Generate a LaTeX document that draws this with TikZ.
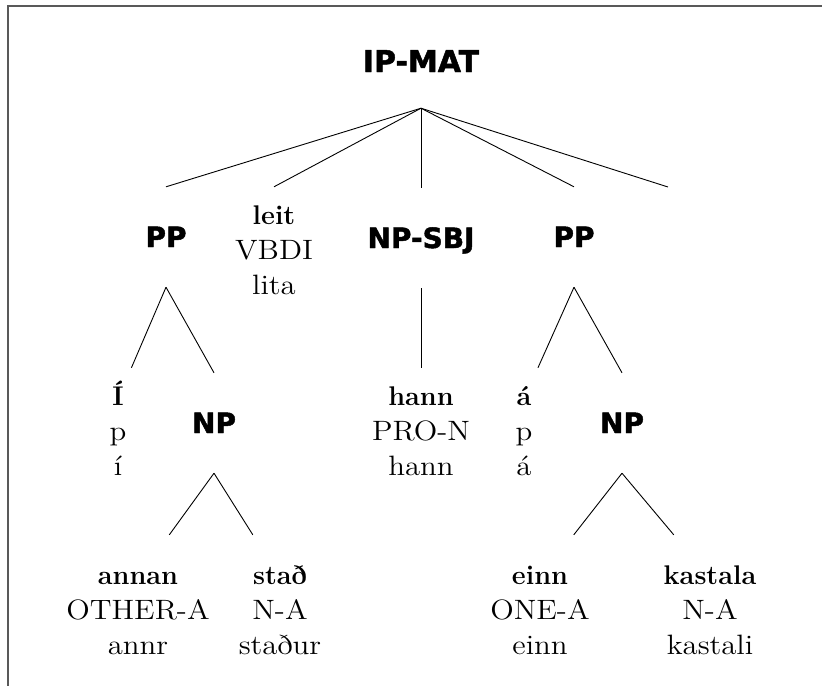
\documentclass[tikz,border=0pt]{standalone}
\usepackage{fontspec}
\newfontfamily\phrasefont{DejaVu Sans}[BoldFeatures={FakeBold=1.6}]
\newfontfamily\glossfont{lmroman12-regular.otf}[FakeStretch=1.1]
\tikzset{
  phrase/.style={font=\phrasefont\bfseries\fontsize{28}{34}\selectfont, inner sep=0pt, minimum height=100pt, text height=20pt, text depth=0pt},
  word/.style={font=\bfseries\fontsize{27}{35}\selectfont, anchor=base, inner xsep=10pt, inner ysep=18pt, text height=19pt, text depth=7pt},
  lowword/.style={word, inner ysep=30pt},
  gloss/.style={font=\glossfont\fontsize{28}{35}\selectfont, anchor=base, inner sep=0pt},
  branch/.style={line width=0.9pt},
  frame/.style={line width=2pt, black!65}
}
\begin{document}
\begin{tikzpicture}[x=1pt,y=-1pt]
      \useasboundingbox (0,0) rectangle (822,686);
      \draw[frame] (822,6) -- (8,6) -- (8,686);
      \node[phrase, font=\phrasefont\bfseries\fontsize{30}{36}\selectfont, text height=22pt, minimum height=94pt] (ipmat) at (421,61) {IP-MAT};
      \node[phrase] (ppA) at (166,237) {PP};
      \node[phrase] (npsbj) at (421,238) {NP-SBJ};
      \node[phrase] (ppB) at (574,237) {PP};
      \coordinate (extra) at (668,187);
      \node[phrase] (npA) at (214,423) {NP};
      \node[phrase] (npB) at (622,423) {NP};
      \node[word] (leit) at (274,224) {leit};
      \node[gloss] (leitT) at ([yshift=-35pt]leit.base) {VBDI};
      \node[gloss] (leitL) at ([yshift=-35pt]leitT.base) {lita};
      \node[word] (iacc) at (118,405) {Í};
      \node[gloss] (iaccT) at ([yshift=-35pt]iacc.base) {p};
      \node[gloss] (iaccL) at ([yshift=-35pt]iaccT.base) {í};
      \node[word] (hann) at (421,405) {hann};
      \node[gloss] (hannT) at ([yshift=-35pt]hann.base) {PRO-N};
      \node[gloss] (hannL) at ([yshift=-35pt]hannT.base) {hann};
      \node[word] (aacc) at (524,405) {á};
      \node[gloss] (aaccT) at ([yshift=-35pt]aacc.base) {p};
      \node[gloss] (aaccL) at ([yshift=-35pt]aaccT.base) {á};
      \node[lowword] (annan) at (138,584) {annan};
      \node[gloss] (annanT) at ([yshift=-35pt]annan.base) {OTHER-A};
      \node[gloss] (annanL) at ([yshift=-35pt]annanT.base) {annr};
      \node[lowword] (stad) at (280,584) {stað};
      \node[gloss] (stadT) at ([yshift=-35pt]stad.base) {N-A};
      \node[gloss] (stadL) at ([yshift=-35pt]stadT.base) {staður};
      \node[lowword] (einn) at (540,584) {einn};
      \node[gloss] (einnT) at ([yshift=-35pt]einn.base) {ONE-A};
      \node[gloss] (einnL) at ([yshift=-35pt]einnT.base) {einn};
      \node[lowword] (kastala) at (710,584) {kastala};
      \node[gloss] (kastalaT) at ([yshift=-35pt]kastala.base) {N-A};
      \node[gloss] (kastalaL) at ([yshift=-35pt]kastalaT.base) {kastali};
      \draw[branch] (ipmat.south) -- (ppA.north);
      \draw[branch] (ipmat.south) -- (leit.north);
      \draw[branch] (ipmat.south) -- (npsbj.north);
      \draw[branch] (ipmat.south) -- (ppB.north);
      \draw[branch] (ipmat.south) -- (extra);
      \draw[branch] (ppA.south) -- (iacc);
      \draw[branch] (ppA.south) -- (npA.north);
      \draw[branch] (npsbj.south) -- (hann);
      \draw[branch] (ppB.south) -- (aacc);
      \draw[branch] (ppB.south) -- (npB.north);
      \draw[branch] (npA.south) -- (annan);
      \draw[branch] (npA.south) -- (stad);
      \draw[branch] (npB.south) -- (einn);
      \draw[branch] (npB.south) -- (kastala);
    \end{tikzpicture}
\end{document}
